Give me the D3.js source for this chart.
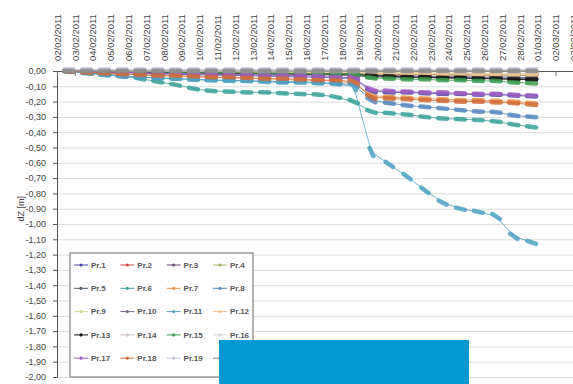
<!DOCTYPE html>
<html>
<head>
<meta charset="utf-8">
<script src="https://d3js.org/d3.v7.min.js"></script>
<style>
body { margin:0; background:#fff; overflow:hidden; }
text { font-family: "Liberation Sans", Arial, sans-serif; }
</style>
</head>
<body>
<div class="chart"></div>
<script>

// readings were taken once a day, in the afternoon (02/02 .. 28/02/2011)
var readDays = d3.range(2, 29)
var readHour = 16

// category labels on top: 02/02/2011 .. 03/03/2011
var labelStart = new Date(2011, 1, 2)
var labelEnd = new Date(2011, 2, 4)

var yTicks = d3.range(0, 21).map(function(i){ return -i / 10 })

var names = ['Pr.1','Pr.2','Pr.3','Pr.4','Pr.5','Pr.6','Pr.7','Pr.8','Pr.9','Pr.10',
             'Pr.11','Pr.12','Pr.13','Pr.14','Pr.15','Pr.16','Pr.17','Pr.18','Pr.19','Pr.20']

var colors = ['#4a47a8','#d04545','#6a5078','#a3b36a','#4f5a66','#3aa39b','#ec9448','#5587c0','#cdd69c','#7c6a8c',
              '#4fa3c4','#f2c292','#111111','#cbbfc9','#3f9f52','#d6d6d6','#a15fc2','#cf6e3c','#bfbfd8','#8c8c8c']

// dZ [m] per series
var pr1  = [0,-0.005,-0.01,-0.01,-0.015,-0.02,-0.02,-0.025,-0.025,-0.03,-0.03,-0.035,-0.035,-0.04,-0.04,-0.045,-0.05,-0.13,-0.14,-0.14,-0.145,-0.15,-0.15,-0.155,-0.155,-0.16,-0.165]
var pr2  = [0,-0.01,-0.01,-0.01,-0.01,-0.015,-0.01,-0.015,-0.015,-0.01,-0.015,-0.015,-0.015,-0.02,-0.015,-0.02,-0.02,-0.02,-0.02,-0.025,-0.02,-0.025,-0.025,-0.025,-0.03,-0.025,-0.03]
var pr3  = [0,-0.005,-0.005,-0.01,-0.01,-0.01,-0.01,-0.015,-0.01,-0.015,-0.015,-0.015,-0.02,-0.02,-0.02,-0.02,-0.025,-0.03,-0.03,-0.03,-0.035,-0.035,-0.035,-0.04,-0.04,-0.04,-0.045]
var pr4  = [0,0,-0.005,-0.005,-0.005,-0.005,-0.01,-0.01,-0.01,-0.01,-0.01,-0.01,-0.015,-0.015,-0.015,-0.015,-0.015,-0.02,-0.02,-0.02,-0.025,-0.025,-0.025,-0.025,-0.03,-0.03,-0.03]
var pr5  = [0,-0.005,-0.01,-0.01,-0.01,-0.015,-0.015,-0.015,-0.02,-0.02,-0.02,-0.02,-0.025,-0.025,-0.025,-0.025,-0.03,-0.035,-0.035,-0.04,-0.04,-0.04,-0.045,-0.045,-0.045,-0.05,-0.05]
var pr6  = [0,-0.01,-0.02,-0.03,-0.05,-0.07,-0.09,-0.115,-0.13,-0.135,-0.14,-0.14,-0.145,-0.15,-0.155,-0.17,-0.2,-0.265,-0.275,-0.285,-0.3,-0.31,-0.315,-0.32,-0.33,-0.35,-0.365]
var pr7  = [0,-0.01,-0.015,-0.02,-0.025,-0.03,-0.035,-0.04,-0.04,-0.045,-0.05,-0.05,-0.055,-0.06,-0.06,-0.065,-0.08,-0.16,-0.17,-0.175,-0.18,-0.185,-0.19,-0.19,-0.195,-0.2,-0.21]
var pr8  = [0,-0.015,-0.025,-0.035,-0.04,-0.045,-0.05,-0.055,-0.06,-0.06,-0.065,-0.065,-0.07,-0.07,-0.075,-0.08,-0.09,-0.19,-0.21,-0.225,-0.235,-0.245,-0.255,-0.265,-0.27,-0.29,-0.3]
var pr9  = [0,0,0,0,-0.005,0,-0.005,-0.005,-0.005,0,-0.005,-0.005,-0.005,-0.005,-0.01,-0.005,-0.01,-0.01,-0.01,-0.01,-0.01,-0.015,-0.01,-0.015,-0.015,-0.015,-0.015]
var pr10 = [0,-0.005,-0.005,-0.01,-0.01,-0.01,-0.015,-0.015,-0.015,-0.02,-0.02,-0.02,-0.02,-0.025,-0.025,-0.025,-0.03,-0.04,-0.04,-0.045,-0.045,-0.045,-0.05,-0.05,-0.05,-0.055,-0.055]
var pr11 = [0,-0.015,-0.025,-0.035,-0.04,-0.045,-0.05,-0.055,-0.06,-0.065,-0.065,-0.07,-0.075,-0.075,-0.08,-0.085,-0.1,-0.53,-0.61,-0.69,-0.78,-0.86,-0.9,-0.92,-0.95,-1.08,-1.12]
var pr12 = [0,0,-0.005,-0.005,0,-0.005,-0.005,-0.005,-0.005,-0.005,-0.01,-0.005,-0.01,-0.01,-0.01,-0.01,-0.01,-0.015,-0.015,-0.015,-0.015,-0.02,-0.015,-0.02,-0.02,-0.02,-0.02]
var pr13 = [0,0,-0.005,-0.005,-0.005,-0.01,-0.01,-0.01,-0.01,-0.015,-0.015,-0.015,-0.015,-0.02,-0.02,-0.02,-0.02,-0.03,-0.035,-0.04,-0.04,-0.045,-0.045,-0.05,-0.05,-0.055,-0.055]
var pr14 = [0.005,0.005,0.005,0.005,0.005,0.005,0.005,0.005,0.005,0.005,0.005,0.005,0.005,0.005,0.005,0.005,0.005,0.005,0.005,0.005,0.005,0.005,0.005,0.005,0.005,0.005,0.005]
var pr15 = [0,0,0,-0.005,-0.005,-0.005,-0.01,-0.01,-0.01,-0.01,-0.015,-0.015,-0.015,-0.015,-0.02,-0.02,-0.02,-0.045,-0.05,-0.055,-0.055,-0.06,-0.06,-0.065,-0.065,-0.075,-0.08]
var pr16 = [0,0,0,0,0,0,0,0,0,0,0,0,0,0,0,0,0,0,0,0,0,0,0,0,0,0,0]
var pr17 = [0,-0.005,-0.005,-0.01,-0.01,-0.015,-0.015,-0.02,-0.02,-0.025,-0.025,-0.03,-0.03,-0.03,-0.035,-0.04,-0.045,-0.12,-0.13,-0.135,-0.14,-0.14,-0.145,-0.15,-0.15,-0.155,-0.16]
var pr18 = [0,-0.01,-0.015,-0.02,-0.025,-0.03,-0.03,-0.035,-0.04,-0.04,-0.045,-0.05,-0.05,-0.055,-0.06,-0.06,-0.07,-0.17,-0.18,-0.185,-0.19,-0.195,-0.2,-0.2,-0.205,-0.21,-0.22]
var pr19 = [0.01,0.01,0.01,0.01,0.01,0.01,0.01,0.01,0.01,0.01,0.01,0.01,0.01,0.01,0.01,0.01,0.01,0.01,0.01,0.01,0.01,0.01,0.01,0.01,0.01,0.01,0.01]
var pr20 = [0,0,0,0,0,0,0,0,0,0,0,0,0,0,0,0,0,0,0,0,0,0,0,0,0,0,0]

var allValues = [pr1,pr2,pr3,pr4,pr5,pr6,pr7,pr8,pr9,pr10,pr11,pr12,pr13,pr14,pr15,pr16,pr17,pr18,pr19,pr20]


// MARGINS
var W = 573, H = 384
var margin = {top:71, left:57, bottom:7}
var dayPx = 17.8
var plotW = dayPx * 30
var plotH = H - margin.top - margin.bottom

var svg = d3.select('.chart').append('svg')
    .attr('width', W)
    .attr('height', H)

var g = svg.append('g')
    .attr('transform', 'translate(' + margin.left + ',' + margin.top + ')')

// SCALES
var x = d3.scaleTime()
    .domain([labelStart, labelEnd])
    .range([0, plotW])

var y = d3.scaleLinear()
    .domain([0, -2])
    .range([0, plotH])

var loc = d3.formatLocale({decimal: ',', thousands: '.', grouping: [3], currency: ['', ''], minus: '-'})
var fmtY = loc.format('.2f')
var fmtDate = d3.timeFormat('%d/%m/%Y')
var labelDates = d3.timeDay.range(labelStart, labelEnd)

// gridlines
g.append('g')
    .attr('class', 'grid')
    .call(d3.axisLeft(y).tickValues(yTicks.slice(1)).tickSize(-plotW).tickFormat(''))
    .call(function(s){
        s.select('.domain').remove()
        s.selectAll('line').attr('stroke', '#dcdcdc').attr('stroke-width', 1)
    })

// y axis
g.append('g')
    .attr('class', 'y axis')
    .call(d3.axisLeft(y).tickValues(yTicks).tickSize(4).tickSizeOuter(0).tickPadding(7).tickFormat(fmtY))
    .call(function(s){
        s.select('.domain').attr('stroke', '#555')
        s.selectAll('line').attr('stroke', '#555')
        s.selectAll('text').attr('fill', '#444').style('font-size', '9px')
    })

// x axis line at 0 with small ticks
g.append('g')
    .attr('class', 'x axis')
    .call(d3.axisBottom(x).tickValues(labelDates).tickSize(5).tickSizeOuter(0).tickFormat(''))
    .call(function(s){
        s.select('.domain').attr('stroke', '#555')
        s.selectAll('line').attr('stroke', '#777')
    })

// date labels on top, rotated
g.append('g')
    .attr('class', 'x labels')
    .attr('transform', 'translate(0,-10)')
    .call(d3.axisTop(x).tickValues(labelDates).tickSize(0).tickFormat(fmtDate))
    .call(function(s){
        s.select('.domain').remove()
        s.selectAll('text')
            .attr('transform', 'rotate(-90)')
            .attr('x', 0).attr('y', 0).attr('dy', '0.35em')
            .style('text-anchor', 'start')
            .style('font-size', '9.5px')
            .attr('fill', '#444')
    })

// y title
svg.append('text')
    .attr('transform', 'translate(21,' + (margin.top + y(-0.9)) + ') rotate(-90)')
    .attr('text-anchor', 'middle')
    .attr('dy', '0.35em')
    .style('font-size', '9px')
    .attr('fill', '#444')
    .text('dZ [m]')


// SERIES
var series = names.map(function(n, k){
    return {name: n, color: colors[k], values: allValues[k].map(function(v, i){
        return {date: new Date(2011, 1, readDays[i], readHour), value: v}
    })}
})

var line = d3.line()
    .x(function(d){ return x(d.date) })
    .y(function(d){ return y(d.value) })

series.forEach(function(s){
    var sg = g.append('g').attr('class', 'series')
    sg.append('path')
        .datum(s.values)
        .attr('d', line)
        .attr('fill', 'none')
        .attr('stroke', s.color)
        .attr('stroke-width', 1)
        .attr('opacity', 0.8)

    // dash markers following the direction of the line
    var pts = s.values.map(function(d){ return [x(d.date), y(d.value)] })
    sg.selectAll('line.mk').data(pts).enter().append('line')
        .attr('class', 'mk')
        .each(function(p, i){
            var a = pts[Math.max(0, i - 1)], b = pts[Math.min(pts.length - 1, i + 1)]
            var dx = b[0] - a[0], dy = b[1] - a[1], len = Math.sqrt(dx*dx + dy*dy) || 1
            var ux = dx / len * 4.5, uy = dy / len * 4.5
            d3.select(this)
                .attr('x1', p[0] - ux).attr('y1', p[1] - uy)
                .attr('x2', p[0] + ux).attr('y2', p[1] + uy)
        })
        .attr('stroke', s.color)
        .attr('stroke-width', 4.5)
        .attr('stroke-linecap', 'round')
        .attr('opacity', 0.85)
})


// LEGEND
var legend = svg.append('g').attr('class', 'legend').attr('transform', 'translate(70,253)')
legend.append('rect')
    .attr('width', 183).attr('height', 124)
    .attr('fill', '#fff')
    .attr('stroke', '#9a9a9a')
    .attr('stroke-width', 1.5)

var items = legend.selectAll('g.item').data(series).enter().append('g')
    .attr('class', 'item')
    .attr('transform', function(d, i){
        return 'translate(' + (4 + (i % 4) * 46.3) + ',' + (12 + Math.floor(i / 4) * 23.3) + ')'
    })
items.append('line')
    .attr('x1', 0).attr('x2', 14)
    .attr('stroke', function(d){ return d.color })
    .attr('stroke-width', 1)
items.append('circle')
    .attr('cx', 7).attr('r', 1.6)
    .attr('fill', function(d){ return d.color })
items.append('text')
    .attr('x', 17).attr('dy', '0.35em')
    .style('font-size', '8px')
    .style('font-weight', 'bold')
    .attr('fill', '#555')
    .text(function(d){ return d.name })

// blue block covering the bottom of the picture
svg.append('rect')
    .attr('x', 219).attr('y', 340)
    .attr('width', 250).attr('height', 44)
    .attr('fill', '#0799d2')

</script>
</body>
</html>
